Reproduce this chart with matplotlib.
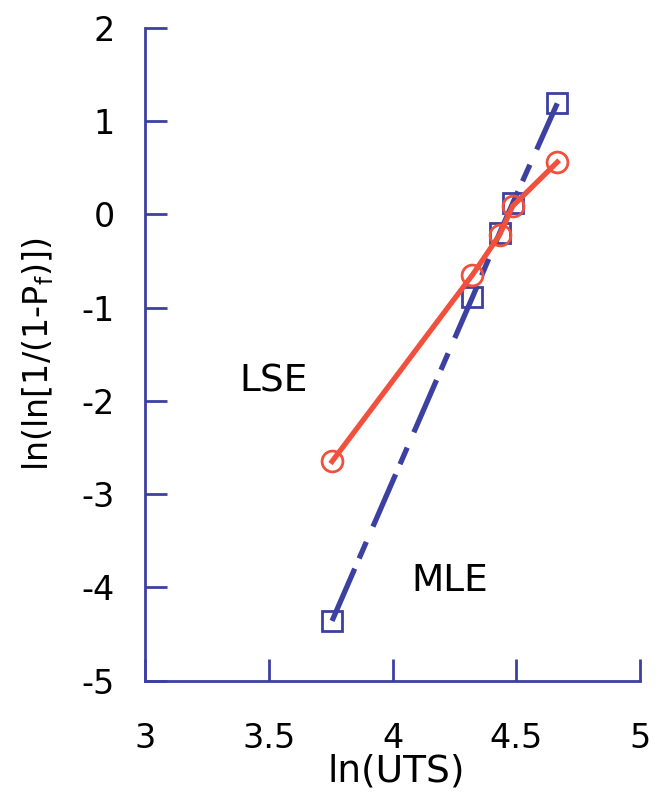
# -*- coding: utf-8 -*-
import numpy as np
import matplotlib.pyplot as plt

# %% Data ---------------------------------------------------------------------
ln_uts = [3.755, 4.322, 4.432, 4.485, 4.665]
lse_y = [-2.65, -0.65, -0.22, 0.09, 0.56]
mle_y = [-4.36, -0.89, -0.20, 0.12, 1.19]

x_ticks = [3, 3.5, 4, 4.5, 5]
x_ticklabels = ['3', '3.5', '4', '4.5', '5']
y_ticks = [-5, -4, -3, -2, -1, 0, 1, 2]

red = '#f0503c'
blue = '#3c40a0'

plt.rcParams['font.family'] = ['DejaVu Sans']
plt.rcParams['axes.unicode_minus'] = False
plt.rcParams['lines.scale_dashes'] = False

# %% Plot ---------------------------------------------------------------------
fig = plt.figure(figsize=(6.6, 7.96), dpi=100)
ax = fig.add_axes([0.22, 0.145, 0.75, 0.82])

ax.plot(ln_uts, mle_y, color=blue, lw=3.8, dashes=(41, 8, 13, 12),
        marker='s', ms=15, mfc='none', mec=blue, mew=2)
ax.plot(ln_uts, lse_y, color=red, lw=3.8,
        marker='o', ms=15, mfc='none', mec=red, mew=2)

ax.text(3.52, -1.79, 'LSE', fontsize=27, ha='center', va='center')
ax.text(4.23, -3.93, 'MLE', fontsize=27, ha='center', va='center')

ax.set_xlim(3, 5)
ax.set_ylim(-5, 2)
ax.set_xticks(x_ticks)
ax.set_xticklabels(x_ticklabels)
ax.set_yticks(y_ticks)

for side in ['top', 'right']:
    ax.spines[side].set_visible(False)
for side in ['left', 'bottom']:
    ax.spines[side].set_color(blue)
    ax.spines[side].set_linewidth(2)

ax.tick_params(direction='in', length=16, width=2, color=blue, labelsize=24)
ax.tick_params(axis='x', pad=30)
ax.tick_params(axis='y', pad=22)

ax.set_xlabel('ln(UTS)', fontsize=27)
ax.xaxis.set_label_coords(0.507, -0.112)
ax.set_ylabel('ln(ln[1/(1-P$_\\mathregular{f}$)])', fontsize=24)
ax.yaxis.set_label_coords(-0.18, 0.5)

fig.savefig('out.png', dpi=100)
